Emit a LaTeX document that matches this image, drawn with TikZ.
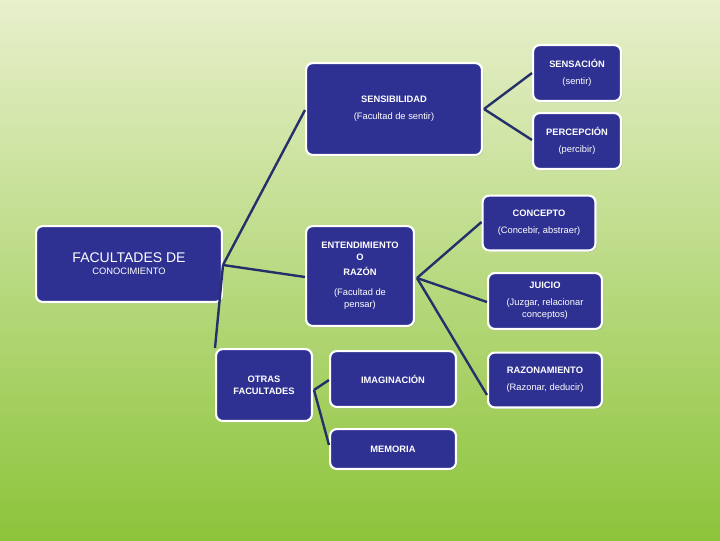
\documentclass[tikz,border=0pt]{standalone}
\usepackage{fontspec}
\setmainfont{Liberation Sans}
\usetikzlibrary{shadows}
\definecolor{boxblue}{HTML}{2E3192}
\definecolor{linkblue}{HTML}{25306A}
\definecolor{bgtop}{HTML}{E8F0CC}
\definecolor{bgbot}{HTML}{8CC43A}
\tikzset{
 bx/.style={draw=white,line width=1.6pt,fill=boxblue,rounded corners=5pt,text=white,align=center,font=\fontsize{7}{9}\selectfont,inner sep=0pt,drop shadow={shadow xshift=1pt,shadow yshift=-1pt,opacity=0.35}},
 ln/.style={draw=linkblue,line width=1.8pt}
}
\newcommand{\bxat}[6]{\node[bx,minimum width=#3*0.75pt-1.6pt,minimum height=#4*0.75pt-1.6pt] (#5) at (#1*0.75pt,-#2*0.75pt) {#6};}
\begin{document}
\begin{tikzpicture}
\shade[top color=bgtop,bottom color=bgbot] (0,0) rectangle (540pt,-405pt);
\useasboundingbox (0,0) rectangle (540pt,-405pt);
% centers x, y, width, height
\bxat{577}{73}{90}{58}{sens}{\textbf{SENSACIÓN}\\[4pt](sentir)}
\bxat{394}{109}{178}{94}{sensi}{\textbf{SENSIBILIDAD}\\[4pt](Facultad de sentir)}
\bxat{577}{141}{90}{58}{perc}{\textbf{PERCEPCIÓN}\\[4pt](percibir)}
\bxat{539}{223}{115}{57}{conc}{\textbf{CONCEPTO}\\[4pt](Concebir, abstraer)}
\bxat{129}{264}{188}{78}{fac}{\fontsize{10.5}{17}\selectfont FACULTADES DE\\CONOCIMIENTO}
\bxat{360}{276}{110}{102}{ent}{\textbf{ENTENDIMIENTO}\\\textbf{O}\\[2pt]\textbf{RAZÓN}\\[6pt](Facultad de\\pensar)}
\bxat{545}{301}{116}{58}{jui}{\textbf{JUICIO}\\[4pt](Juzgar, relacionar\\conceptos)}
\bxat{264}{385}{98}{74}{otras}{\textbf{OTRAS}\\\textbf{FACULTADES}}
\bxat{393}{379}{128}{58}{imag}{\textbf{IMAGINACIÓN}}
\bxat{545}{380}{116}{57}{razo}{\textbf{RAZONAMIENTO}\\[4pt](Razonar, deducir)}
\bxat{393}{449}{128}{42}{mem}{\textbf{MEMORIA}}
\coordinate (f1) at (223*0.75pt,-265*0.75pt);
\coordinate (f2) at (484*0.75pt,-109*0.75pt);
\coordinate (f3) at (417*0.75pt,-278*0.75pt);
\coordinate (f4) at (314*0.75pt,-390*0.75pt);
\draw[ln] (f1) -- (sensi.west|-0,-110*0.75pt);
\draw[ln] (f1) -- (ent.west|-0,-277*0.75pt);
\draw[ln] (f1) -- (otras.north west|-0,-348*0.75pt);
\draw[ln] (f2) -- (sens.west|-0,-73*0.75pt);
\draw[ln] (f2) -- (perc.west|-0,-140*0.75pt);
\draw[ln] (f3) -- (conc.west|-0,-222*0.75pt);
\draw[ln] (f3) -- (jui.west|-0,-302*0.75pt);
\draw[ln] (f3) -- (razo.west|-0,-395*0.75pt);
\draw[ln] (f4) -- (imag.west|-0,-380*0.75pt);
\draw[ln] (f4) -- (mem.west|-0,-445*0.75pt);
\end{tikzpicture}
\end{document}
